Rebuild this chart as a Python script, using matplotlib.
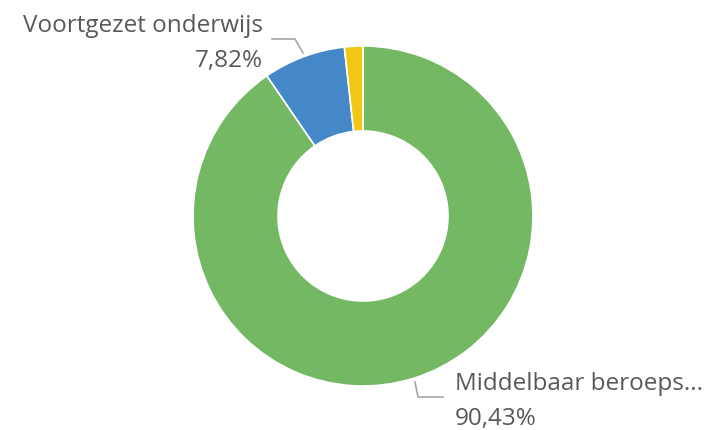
import matplotlib.pyplot as plt

# Donut chart: share of students per education type
labels = ['Middelbaar beroeps...', 'Voortgezet onderwijs', 'Overig']
shares = [90.43, 7.82, 1.75]
colors = ['#74B863', '#4488C8', '#F2C614']

W, H = 705, 430
fig = plt.figure(figsize=(W / 100, H / 100), dpi=100)
ax = fig.add_axes([0, 0, 1, 1])
ax.set_xlim(0, W)
ax.set_ylim(0, H)

cx, cy, r = 363, H - 216, 170
ax.pie(shares, colors=colors, startangle=90, counterclock=False,
       center=(cx, cy), radius=r, frame=True,
       wedgeprops=dict(width=r * 0.5, edgecolor='white', linewidth=1.2))
ax.set_xlim(0, W)
ax.set_ylim(0, H)
ax.set_aspect('equal')
ax.axis('off')

txt = dict(color='#595959', fontsize=17.5, family=['Open Sans', 'DejaVu Sans'])
line = dict(color='#A6A6A6', linewidth=1.2)

# Voortgezet onderwijs label (upper left)
ax.plot([272, 295, 303], [H - 39, H - 39, H - 53], **line)
ax.text(263, H - 32, labels[1], ha='right', va='baseline', **txt)
ax.text(263, H - 67, f'{shares[1]:.2f}%'.replace('.', ','), ha='right',
        va='baseline', **txt)

# Middelbaar beroeps label (lower right)
ax.plot([415, 418, 443], [H - 382, H - 397, H - 397], **line)
ax.text(455, H - 390, labels[0], ha='left', va='baseline', **txt)
ax.text(455, H - 425, f'{shares[0]:.2f}%'.replace('.', ','), ha='left',
        va='baseline', **txt)

fig.savefig('out.png', dpi=100)
